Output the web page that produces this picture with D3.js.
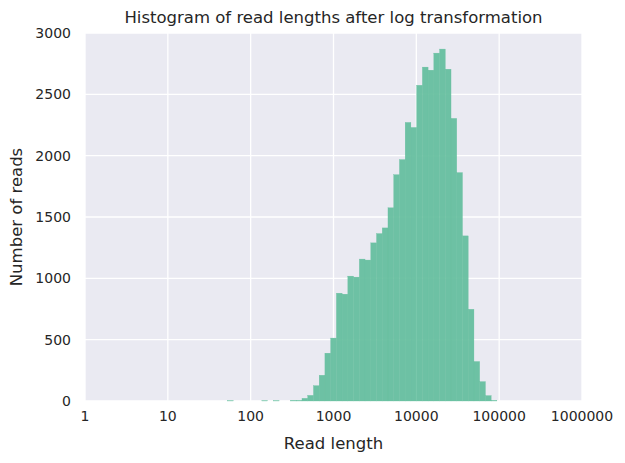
<!DOCTYPE html>
<html>
<head>
<meta charset="utf-8">
<script src="https://cdn.jsdelivr.net/npm/d3@7"></script>
<style>
body { margin: 0; background: #fff; }
text { font-family: "DejaVu Sans", sans-serif; fill: #262626; }
</style>
</head>
<body>
<svg id="chart" width="625" height="463"></svg>
<script>
// bin edges are in log10(read length), bin width ~0.069
const binStart = 1.72;
const binWidth = 0.0692;
// counts per bin, left to right (0 where empty)
const counts = [3, 0, 0, 0, 0, 0, 3, 0, 3, 0, 0, 5, 5, 22, 46, 125, 210, 390, 513,
  879, 871, 1018, 1010, 1157, 1149, 1289, 1365, 1411, 1575, 1845, 1968, 2271, 2230,
  2574, 2722, 2697, 2836, 2869, 2705, 2304, 1862, 1346, 748, 322, 158, 44, 5];
const xTicks = [1, 10, 100, 1000, 10000, 100000, 1000000];
const yTicks = [0, 500, 1000, 1500, 2000, 2500, 3000];

const bins = counts.map((c, i) => ({
  x0: Math.pow(10, binStart + i * binWidth),
  x1: Math.pow(10, binStart + (i + 1) * binWidth),
  n: c
}));

const svg = d3.select("#chart");
const pL = 85, pR = 582, pT = 33, pB = 401;

const x = d3.scaleLog().domain([1, 1000000]).range([pL, pR]);
const y = d3.scaleLinear().domain([0, 3000]).range([pB, pT]);

svg.append("rect")
  .attr("x", pL).attr("y", pT)
  .attr("width", pR - pL).attr("height", pB - pT)
  .attr("fill", "#eaeaf2");

svg.selectAll(".vgrid").data(xTicks).enter().append("line")
  .attr("x1", d => x(d)).attr("x2", d => x(d))
  .attr("y1", pT).attr("y2", pB)
  .attr("stroke", "#fff").attr("stroke-width", 1.3);
svg.selectAll(".hgrid").data(yTicks).enter().append("line")
  .attr("x1", pL).attr("x2", pR)
  .attr("y1", d => y(d)).attr("y2", d => y(d))
  .attr("stroke", "#fff").attr("stroke-width", 1.3);

svg.selectAll(".bar").data(bins.filter(b => b.n > 0)).enter().append("rect")
  .attr("x", d => x(d.x0))
  .attr("width", d => x(d.x1) - x(d.x0))
  .attr("y", d => y(d.n))
  .attr("height", d => y(0) - y(d.n))
  .attr("fill", "rgb(102,191,159)")
  .attr("fill-opacity", 0.95)
  .attr("stroke", "rgb(102,191,159)")
  .attr("stroke-width", 0.3);

svg.selectAll(".xl").data(xTicks).enter().append("text")
  .attr("x", d => x(d)).attr("y", pB + 20)
  .attr("text-anchor", "middle").attr("font-size", 14)
  .text(d => d);
svg.selectAll(".yl").data(yTicks).enter().append("text")
  .attr("x", pL - 14).attr("y", d => y(d) + 5)
  .attr("text-anchor", "end").attr("font-size", 14)
  .text(d => d);

svg.append("text").attr("x", (pL + pR) / 2).attr("y", 23)
  .attr("text-anchor", "middle").attr("font-size", 16.5)
  .text("Histogram of read lengths after log transformation");
svg.append("text").attr("x", (pL + pR) / 2).attr("y", 449)
  .attr("text-anchor", "middle").attr("font-size", 16.5)
  .text("Read length");
svg.append("text")
  .attr("transform", `translate(22,${(pT + pB) / 2}) rotate(-90)`)
  .attr("text-anchor", "middle").attr("font-size", 16.5)
  .text("Number of reads");
</script>
</body>
</html>
